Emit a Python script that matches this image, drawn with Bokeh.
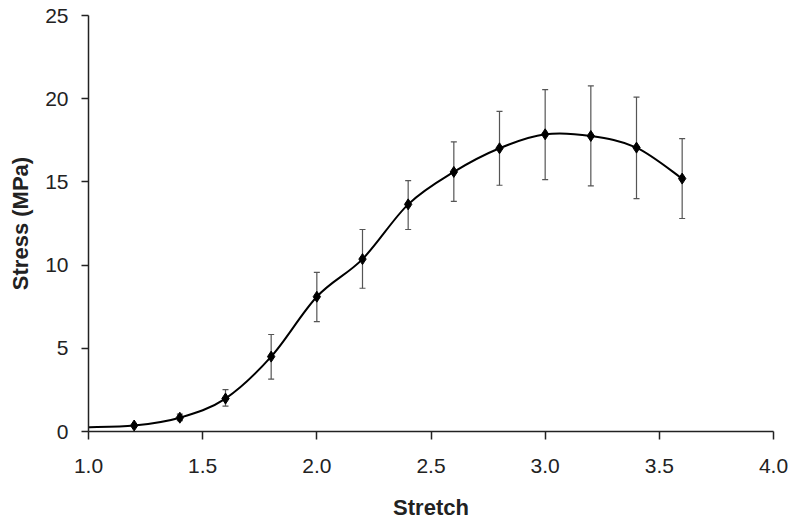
from bokeh.plotting import figure
from bokeh.models import Range1d, FixedTicker, Whisker, ColumnDataSource, TeeHead, NumeralTickFormatter
from bokeh.embed import file_html
from bokeh.resources import INLINE

# Data
stretch = [1.0, 1.2, 1.4, 1.6, 1.8, 2.0, 2.2, 2.4, 2.6, 2.8, 3.0, 3.2, 3.4, 3.6]
stress = [0.26, 0.36, 0.83, 1.98, 4.5, 8.1, 10.36, 13.65, 15.6, 17.02, 17.86, 17.76, 17.06, 15.2]
stress_upper = [0.26, 0.45, 1.05, 2.52, 5.83, 9.56, 12.14, 15.08, 17.4, 19.24, 20.54, 20.77, 20.1, 17.6]
stress_lower = [0.26, 0.28, 0.65, 1.53, 3.15, 6.6, 8.61, 12.14, 13.83, 14.8, 15.14, 14.76, 13.99, 12.8]
x_ticks = [1.0, 1.5, 2.0, 2.5, 3.0, 3.5, 4.0]
y_ticks = [0, 5, 10, 15, 20, 25]

FONT = "Liberation Sans"

p = figure(width=790, height=522, output_backend="svg", toolbar_location=None,
           x_range=Range1d(1.0, 4.0), y_range=Range1d(0, 25),
           min_border_left=88, min_border_right=17, min_border_top=15, min_border_bottom=87)
p.outline_line_color = None
p.xgrid.grid_line_color = None
p.ygrid.grid_line_color = None
p.background_fill_color = "white"
p.border_fill_color = "white"

# Error bars
eb_src = ColumnDataSource(dict(x=stretch[2:], upper=stress_upper[2:], lower=stress_lower[2:]))
wh = Whisker(source=eb_src, base="x", upper="upper", lower="lower",
             line_color="#555555", line_width=1.2,
             upper_head=TeeHead(size=6, line_color="#555555", line_width=1.2),
             lower_head=TeeHead(size=6, line_color="#555555", line_width=1.2))
p.add_layout(wh)

# Smoothed line (Bezier segments built from the data points)
n = len(stretch)
x0s, y0s, x1s, y1s, cx0, cy0, cx1, cy1 = [], [], [], [], [], [], [], []
for i in range(n - 1):
    ip = max(i - 1, 0)
    inx = min(i + 2, n - 1)
    x0s.append(stretch[i]); y0s.append(stress[i])
    x1s.append(stretch[i + 1]); y1s.append(stress[i + 1])
    cx0.append(stretch[i] + (stretch[i + 1] - stretch[ip]) / 6)
    cy0.append(stress[i] + (stress[i + 1] - stress[ip]) / 6)
    cx1.append(stretch[i + 1] - (stretch[inx] - stretch[i]) / 6)
    cy1.append(stress[i + 1] - (stress[inx] - stress[i]) / 6)
p.bezier(x0=x0s, y0=y0s, x1=x1s, y1=y1s, cx0=cx0, cy0=cy0, cx1=cx1, cy1=cy1,
         line_color="black", line_width=2)

# Markers
p.scatter(stretch[1:], stress[1:], marker="diamond", size=11, color="black")

# Axes
for ax in (p.xaxis[0], p.yaxis[0]):
    ax.axis_line_color = "#222222"
    ax.axis_line_width = 1.5
    ax.major_tick_line_color = "#222222"
    ax.major_tick_line_width = 1.5
    ax.minor_tick_line_color = None
    ax.major_tick_in = 0
    ax.major_label_text_font = FONT
    ax.major_label_text_font_size = "21px"
    ax.major_label_text_color = "#222222"
    ax.axis_label_text_font = FONT
    ax.axis_label_text_font_size = "22px"
    ax.axis_label_text_font_style = "bold"
    ax.axis_label_text_color = "#222222"

p.xaxis.ticker = FixedTicker(ticks=x_ticks)
p.xaxis.formatter = NumeralTickFormatter(format="0.0")
p.xaxis.major_tick_out = 8
p.xaxis.major_label_standoff = 19
p.xaxis.axis_label = "Stretch"
p.xaxis.axis_label_standoff = 19

p.yaxis.ticker = FixedTicker(ticks=y_ticks)
p.yaxis.major_tick_out = 7
p.yaxis.major_label_standoff = 13
p.yaxis.axis_label = "Stress (MPa)"
p.yaxis.axis_label_standoff = 9

open("out.html", "w").write(file_html(p, INLINE))
